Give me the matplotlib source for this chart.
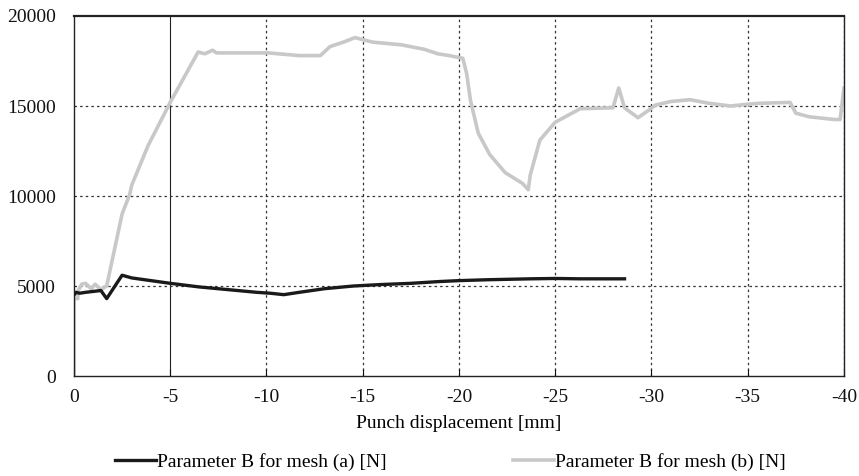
import matplotlib.pyplot as plt

plt.rcParams['font.family'] = ['Liberation Serif', 'DejaVu Serif']

# mesh (a), black curve
disp_a = [0.0, -0.1, -0.3, -0.6, -1.0, -1.4, -1.7, -2.1, -2.5, -3.0, -4.0, -5.0, -6.5,
          -8.0, -9.5, -10.2, -10.9, -11.7, -13.0, -14.5, -15.9, -17.5, -19.0, -20.0,
          -21.5, -23.7, -25.0, -26.3, -28.6]
force_a = [4500, 4650, 4600, 4650, 4700, 4750, 4300, 4950, 5600, 5450, 5300, 5150, 4950,
           4800, 4650, 4600, 4520, 4650, 4850, 5000, 5080, 5150, 5250, 5300,
           5350, 5400, 5420, 5400, 5400]

# mesh (b), grey curve
disp_b = [0.0, 0.0, -0.2, -0.2, -0.4, -0.6, -0.9, -1.1, -1.4, -1.7, -2.1, -2.5, -2.9, -3.0,
          -3.85, -5.0, -6.45, -6.8, -7.2, -7.4, -10.1, -11.7, -12.8, -13.3, -14.0, -14.6,
          -15.5, -17.0, -18.2, -18.9, -19.5, -20.2, -20.4, -20.6, -21.0, -21.6, -22.4,
          -23.3, -23.6, -23.7, -24.2, -25.0, -26.3, -28.0, -28.3, -28.6, -29.3, -29.9,
          -30.2, -31.0, -32.0, -33.0, -34.1, -35.0, -35.6, -37.2, -37.5, -38.2, -39.5,
          -39.8, -40.0]
force_b = [0, 4300, 4300, 4700, 5100, 5150, 4850, 5100, 4800, 5000, 7000, 9000, 10100, 10600,
           12800, 15200, 18000, 17900, 18100, 17950, 17950, 17800, 17800, 18300, 18550, 18800,
           18550, 18400, 18150, 17900, 17800, 17650, 16800, 15300, 13500, 12300, 11300,
           10700, 10350, 11150, 13100, 14100, 14850, 14900, 16000, 14900, 14350, 14800,
           15050, 15250, 15350, 15150, 15000, 15100, 15150, 15200, 14600, 14400, 14250,
           14250, 16000]

fig = plt.figure(figsize=(8.59, 4.76), dpi=100)
ax = fig.add_axes([0.0861, 0.210, 0.8964, 0.7564])

ax.plot(disp_a, force_a, color='#1a1a1a', lw=2.4, label='Parameter B for mesh (a) [N]', zorder=3)
ax.plot(disp_b, force_b, color='#c8c8c8', lw=2.6, label='Parameter B for mesh (b) [N]', zorder=2)

ax.set_xlim(0, -40)
ax.set_ylim(0, 20000)
ax.set_xticks(range(0, -41, -5))
ax.set_yticks(range(0, 20001, 5000))
ax.set_xticklabels(['0'] + [str(v) for v in range(-5, -41, -5)])

for v in range(-10, -41, -5):
    ax.axvline(v, color='#333333', lw=0.9, ls=(0, (2, 2.5)), zorder=1)
ax.axvline(-5, color='#222222', lw=0.8, zorder=1)
for v in range(5000, 20000, 5000):
    ax.axhline(v, color='#333333', lw=0.9, ls=(0, (2, 2.5)), zorder=1)

for s in ax.spines.values():
    s.set_color('#222222')
    s.set_linewidth(1.0)
ax.spines['top'].set_linewidth(1.6)

ax.tick_params(axis='x', direction='in', length=5, labelsize=14, pad=9, colors='#111111')
ax.tick_params(axis='y', length=0, labelsize=14, pad=13, colors='#111111')
ax.set_xlabel('Punch displacement [mm]', fontsize=14, labelpad=7)

fig.legend(loc='center', bbox_to_anchor=(0.524, 0.03), ncol=2, frameon=False,
           fontsize=14, handlelength=2.1, handletextpad=0.05, columnspacing=6.5)

fig.savefig('out.png', dpi=100)
